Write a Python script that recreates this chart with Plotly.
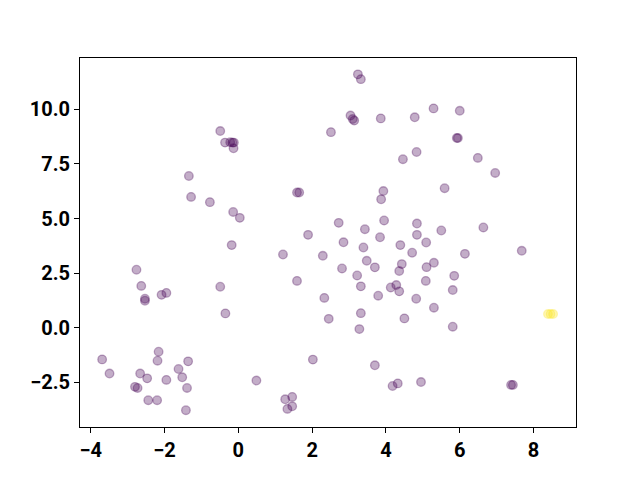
import plotly.graph_objects as go

# Purple cluster (class 0)
x0 = [-0.49, -0.36, -0.22, -0.16, -0.12, -0.13, -1.34, -1.28, -0.77, -0.14, 0.04,
      1.59, 1.65, 1.89, 2.51, 3.24, 3.32, 3.04, 3.10, 3.14, 3.86, 4.78, 5.29, 6.00,
      5.92, 5.95, 4.83, 4.46, 6.49, 6.96, 3.93, 3.87, 5.59, 2.72, 3.95, 3.43, 4.84,
      4.84, 3.84, 5.50, 6.64, 2.85, 3.39, 4.39, 5.09, 2.29, 4.71, 6.14, 7.68, 2.81,
      3.48, 3.70, 4.43, 4.36, 5.10, 5.30, 3.22, 3.32, 5.85, 5.08, 4.13, 4.28, 4.36,
      3.79, 5.81, 2.33, 4.82, 5.30, 3.32, 2.45, 4.50, 5.81, 3.28, 2.02, 3.70, 4.18,
      4.32, 4.95, 7.39, 7.44, -0.18, 1.21, 1.59, -2.76, -2.63, -2.53, -2.53, -2.08,
      -1.95, -0.49, -0.35, -3.69, -3.49, -2.16, -2.19, -2.66, -2.47, -2.80, -2.73,
      -1.95, -1.62, -1.36, -1.52, -1.39, -2.44, -2.20, -1.42, 0.49, 1.27, 1.46,
      1.33, 1.46]
y0 = [9.01, 8.48, 8.50, 8.48, 8.48, 8.22, 6.95, 5.99, 5.75, 5.30, 5.03,
      6.19, 6.19, 4.25, 8.96, 11.61, 11.39, 9.72, 9.56, 9.49, 9.59, 9.64, 10.05, 9.94,
      8.69, 8.69, 8.05, 7.72, 7.78, 7.09, 6.26, 5.88, 6.39, 4.80, 4.91, 4.51, 4.77,
      4.25, 4.14, 4.45, 4.59, 3.91, 3.67, 3.78, 3.90, 3.29, 3.43, 3.38, 3.52, 2.71,
      3.06, 2.76, 2.91, 2.59, 2.77, 2.97, 2.39, 1.89, 2.37, 2.14, 1.84, 1.95, 1.66,
      1.46, 1.72, 1.36, 1.32, 0.91, 0.66, 0.40, 0.42, 0.04, -0.07, -1.47, -1.73, -2.68,
      -2.56, -2.50, -2.63, -2.63, 3.78, 3.35, 2.14, 2.65, 1.91, 1.32, 1.23, 1.50,
      1.59, 1.87, 0.65, -1.46, -2.11, -1.11, -1.52, -2.11, -2.33, -2.72, -2.77,
      -2.40, -1.90, -1.55, -2.28, -2.77, -3.33, -3.33, -3.79, -2.43, -3.29, -3.18,
      -3.73, -3.61]

# Yellow cluster (class 1)
x1 = [8.39, 8.46, 8.53]
y1 = [0.62, 0.62, 0.62]

purple = "rgba(68,1,84,0.32)"
yellow = "rgba(253,231,37,0.32)"

fig = go.Figure()
for xs, ys, col in [(x0, y0, purple), (x1, y1, yellow)]:
    fig.add_trace(go.Scatter(
        x=xs, y=ys, mode="markers",
        marker=dict(size=8.6, color=col, line=dict(width=1.3, color=col)),
        showlegend=False, hoverinfo="skip"))

axis_common = dict(
    showgrid=False, zeroline=False, showline=True, linecolor="black", linewidth=1,
    mirror=True, ticks="outside", ticklen=5, tickwidth=1, tickcolor="black",
    tickfont=dict(family="Roboto", size=20, color="black", weight="bold"),
)
fig.update_xaxes(range=[-4.29, 9.15], tickvals=[-4, -2, 0, 2, 4, 6, 8], **axis_common)
fig.update_yaxes(range=[-4.56, 12.36], tickvals=[-2.5, 0, 2.5, 5, 7.5, 10],
                 tickformat=".1f", **axis_common)
fig.update_layout(
    width=640, height=480, plot_bgcolor="white", paper_bgcolor="white",
    margin=dict(l=72, r=72, t=50, b=61, autoexpand=False),
)
fig.write_html("out.html")
